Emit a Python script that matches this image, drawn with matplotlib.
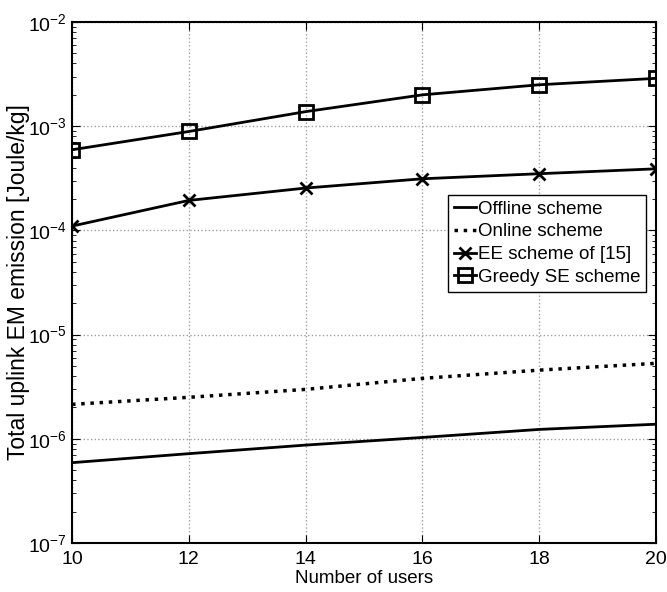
import matplotlib
matplotlib.use("Agg")
import matplotlib.pyplot as plt
from matplotlib.ticker import LogLocator, NullFormatter

plt.rcParams['font.family'] = ['Liberation Sans', 'DejaVu Sans']
plt.rcParams['mathtext.fontset'] = 'custom'
plt.rcParams['mathtext.rm'] = 'Liberation Sans'

users = [10, 12, 14, 16, 18, 20]
offline = [5.9e-7, 7.2e-7, 8.7e-7, 1.03e-6, 1.23e-6, 1.38e-6]
online = [2.14e-6, 2.5e-6, 2.98e-6, 3.8e-6, 4.56e-6, 5.3e-6]
ee_scheme = [1.1e-4, 1.94e-4, 2.55e-4, 3.13e-4, 3.5e-4, 3.9e-4]
greedy_se = [5.94e-4, 8.9e-4, 1.38e-3, 2.0e-3, 2.5e-3, 2.88e-3]

labels = ["Offline scheme", "Online scheme", "EE scheme of [15]", "Greedy SE scheme"]
xticks = [10, 12, 14, 16, 18, 20]

fig = plt.figure(figsize=(6.67, 5.92), dpi=100)
ax = fig.add_axes([0.108, 0.0828, 0.8755, 0.88])

ax.semilogy(users, offline, '-', color='black', lw=2, label=labels[0])
ax.semilogy(users, online, ':', color='black', lw=2.5, label=labels[1])
ax.semilogy(users, ee_scheme, '-', color='black', lw=2, marker='x', ms=8, mew=2, label=labels[2])
ax.semilogy(users, greedy_se, '-', color='black', lw=2, marker='s', ms=10, mew=2,
            mfc='none', label=labels[3])

ax.set_xlim(10, 20)
ax.set_ylim(1e-7, 1e-2)
ax.set_xticks(xticks)
ax.yaxis.set_major_locator(LogLocator(base=10, numticks=10))
ax.yaxis.set_minor_locator(LogLocator(base=10, subs=range(2, 10), numticks=100))
ax.yaxis.set_minor_formatter(NullFormatter())

ax.grid(True, which='major', linestyle=':', color='#a0a0a0', lw=1)
ax.tick_params(which='both', direction='in', top=True, right=True, labelsize=14)
ax.tick_params(axis='x', pad=6)
ax.tick_params(which='major', length=6)
ax.tick_params(which='minor', length=3)
for s in ax.spines.values():
    s.set_linewidth(1.5)

ax.set_xlabel("Number of users", fontsize=13.5, labelpad=1)
ax.set_ylabel("Total uplink EM emission [Joule/kg]", fontsize=16.5)
ax.yaxis.set_label_coords(-0.072, 0.5)

leg = ax.legend(loc='upper right', bbox_to_anchor=(0.983, 0.668), fontsize=13.5,
                fancybox=False, edgecolor='black', framealpha=1, handlelength=1.2,
                handletextpad=0.1, borderpad=0.3, labelspacing=0.3, borderaxespad=0)
leg.get_frame().set_linewidth(1)

fig.savefig("out.png", dpi=100)
